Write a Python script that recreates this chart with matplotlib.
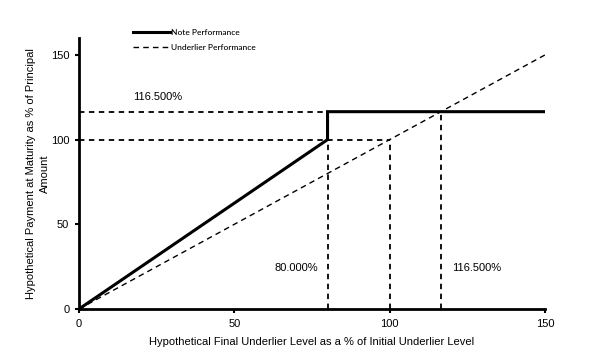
import matplotlib
matplotlib.use("Agg")
import matplotlib.pyplot as plt

note_x = [0, 80, 80, 150]
note_y = [0, 100, 116.5, 116.5]
under_x = [0, 150]
under_y = [0, 150]
xticks = [0, 50, 100, 150]
yticks = [0, 50, 100, 150]
cap = 116.5
barrier = 80
initial = 100

plt.rcParams['font.family'] = ['Liberation Sans', 'DejaVu Sans']
fig = plt.figure(figsize=(6.15, 3.55), dpi=100)
ax = fig.add_axes([79/615, 1-309/355, (545-79)/615, (309-38)/355])

dash = (0, (3, 2.5))
kw = dict(color='black', lw=1.3, ls=dash)
# reference lines
ax.plot([0, cap], [cap, cap], **kw)
ax.plot([0, initial], [initial, initial], **kw)
ax.plot([barrier, barrier], [0, initial], **kw)
ax.plot([initial, initial], [0, initial], **kw)
ax.plot([cap, cap], [0, cap], **kw)

l2, = ax.plot(under_x, under_y, color='black', lw=1.0, ls=(0, (4, 3)), label='Underlier Performance')
l1, = ax.plot(note_x, note_y, color='black', lw=2.2, label='Note Performance', solid_joinstyle='miter')

ax.text(17.5, 125, '116.500%', fontsize=8, ha='left', va='center')
ax.text(77, 24, '80.000%', fontsize=8, ha='right', va='center')
ax.text(120, 24, '116.500%', fontsize=8, ha='left', va='center')

ax.set_xlim(0, 150)
ax.set_ylim(0, 160)
ax.set_xticks(xticks)
ax.set_yticks(yticks)
ax.tick_params(direction='out', length=3, width=1.5, labelsize=8, pad=4)
for s in ['top', 'right']:
    ax.spines[s].set_visible(False)
for s in ['left', 'bottom']:
    ax.spines[s].set_linewidth(2)

ax.set_xlabel('Hypothetical Final Underlier Level as a % of Initial Underlier Level', fontsize=8, labelpad=6)
ax.set_ylabel('Hypothetical Payment at Maturity as % of Principal\nAmount', fontsize=8, labelpad=0.5, linespacing=1.45)

leg = fig.legend(handles=[l1, l2], loc='upper left', bbox_to_anchor=(133/615, 1-29/355),
                 frameon=False, prop={'family': 'Lato', 'size': 6, 'weight': 'medium'}, handlelength=4.4,
                 handletextpad=0.15, labelspacing=1.0, borderpad=0, borderaxespad=0)

fig.savefig('out.png', dpi=100)
